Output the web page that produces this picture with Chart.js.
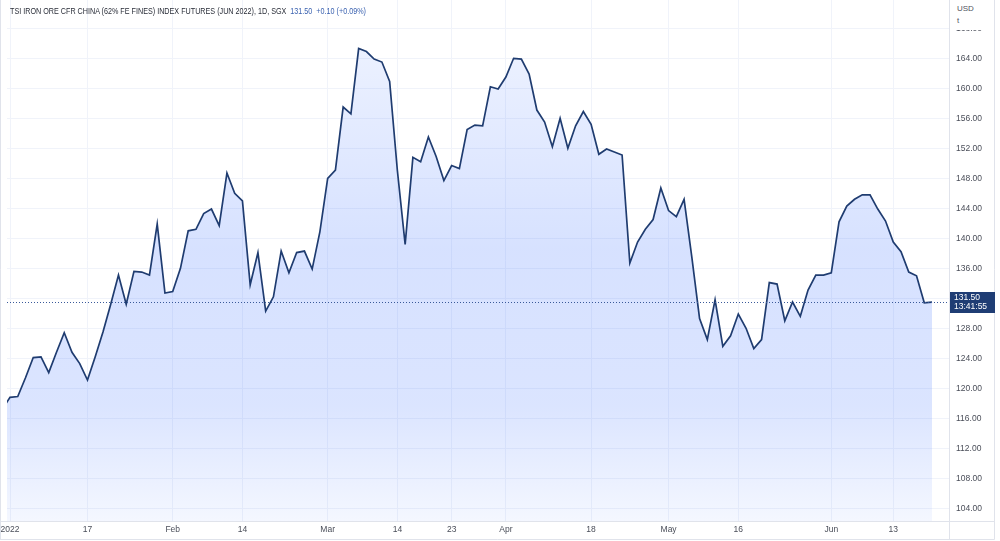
<!DOCTYPE html>
<html><head><meta charset="utf-8">
<script src="https://cdn.jsdelivr.net/npm/chart.js@4.4.0/dist/chart.umd.min.js"></script>
<style>
html,body{margin:0;padding:0;background:#fff;}
#wrap{position:relative;width:1000px;height:541px;overflow:hidden;background:#fff;}
#c{position:absolute;left:0;top:0;}
#title{position:absolute;left:10px;top:5px;font:9.5px "Liberation Sans",Arial,sans-serif;color:#2a2e39;white-space:nowrap;transform-origin:0 0;line-height:12px;}
#title .v{color:#3b62b0;}
#unit{position:absolute;left:951px;top:0;width:43px;height:30px;background:#fff;font:8px "Liberation Sans",Arial,sans-serif;color:#50535e;line-height:12px;padding:3px 0 0 6px;box-sizing:border-box;}
</style></head>
<body><div id="wrap"><canvas id="c" width="1000" height="541"></canvas>
<div id="title">TSI IRON ORE CFR CHINA (62% FE FINES) INDEX FUTURES (JUN 2022), 1D, SGX&nbsp;&nbsp;<span class="v">131.50&nbsp;&nbsp;+0.10 (+0.09%)</span></div>
<div id="unit">USD<br>t</div></div>
<script>
const dates = ['2021-12-31',
'2022-01-03','2022-01-04','2022-01-05','2022-01-06','2022-01-07','2022-01-10','2022-01-11','2022-01-12','2022-01-13','2022-01-14',
'2022-01-17','2022-01-18','2022-01-19','2022-01-20','2022-01-21','2022-01-24','2022-01-25','2022-01-26','2022-01-27','2022-01-28',
'2022-01-31','2022-02-01','2022-02-02','2022-02-03','2022-02-04','2022-02-07','2022-02-08','2022-02-09','2022-02-10','2022-02-11',
'2022-02-14','2022-02-15','2022-02-16','2022-02-17','2022-02-18','2022-02-21','2022-02-22','2022-02-23','2022-02-24','2022-02-25',
'2022-02-28','2022-03-01','2022-03-02','2022-03-03','2022-03-04','2022-03-07','2022-03-08','2022-03-09','2022-03-10','2022-03-11',
'2022-03-14','2022-03-15','2022-03-16','2022-03-17','2022-03-18','2022-03-21','2022-03-22','2022-03-23','2022-03-24','2022-03-25',
'2022-03-28','2022-03-29','2022-03-30','2022-03-31','2022-04-01','2022-04-04','2022-04-05','2022-04-06','2022-04-07','2022-04-08',
'2022-04-11','2022-04-12','2022-04-13','2022-04-14','2022-04-15','2022-04-18','2022-04-19','2022-04-20','2022-04-21','2022-04-22',
'2022-04-25','2022-04-26','2022-04-27','2022-04-28','2022-04-29','2022-05-02','2022-05-04','2022-05-05','2022-05-06','2022-05-09',
'2022-05-10','2022-05-11','2022-05-12','2022-05-13','2022-05-16','2022-05-17','2022-05-18','2022-05-19','2022-05-20','2022-05-23',
'2022-05-24','2022-05-25','2022-05-26','2022-05-27','2022-05-30','2022-05-31','2022-06-01','2022-06-02','2022-06-03','2022-06-06',
'2022-06-07','2022-06-08','2022-06-09','2022-06-10','2022-06-13','2022-06-14','2022-06-15','2022-06-16','2022-06-17','2022-06-20'];

const prices = [117.2,
118.8,118.9,121.4,124.1,124.2,122.1,124.8,127.4,124.8,123.3,
121.1,124.2,127.5,131.2,135.1,131.2,135.6,135.5,135.1,141.9,
132.7,132.9,136.0,141.0,141.2,143.3,143.9,141.7,148.7,146.0,
145.0,133.8,138.1,130.3,132.2,138.3,135.4,138.1,138.3,135.9,
140.9,148.0,149.1,157.5,156.6,165.3,164.9,163.9,163.5,160.9,
149.0,139.2,150.8,150.2,153.5,150.9,147.7,149.7,149.3,154.5,
155.1,155.0,160.2,159.9,161.5,164.0,163.9,161.9,157.1,155.5,
152.2,156.0,152.0,155.0,156.9,155.2,151.2,151.9,151.5,151.1,
136.7,139.5,141.2,142.5,146.7,143.7,142.9,145.2,137.5,129.3,
126.5,131.8,125.6,127.0,129.9,128.0,125.3,126.5,134.1,133.9,
129.0,131.5,129.6,133.1,135.1,135.1,135.4,142.2,144.3,145.2,
145.8,145.8,143.9,142.3,139.5,138.2,135.5,135.0,131.4,131.5];

const tickDates  = ['2022-01-03','2022-01-17','2022-02-01','2022-02-14','2022-03-01','2022-03-14','2022-03-23','2022-04-01','2022-04-18','2022-05-02','2022-05-16','2022-06-01','2022-06-13'];
const tickLabels = ['2022','17','Feb','14','Mar','14','23','Apr','18','May','16','Jun','13'];
const priceTicks = [104,108,112,116,120,124,128,132,136,140,144,148,152,156,160,164,168];
const lastPrice = 131.50;
const lastTime = '13:41:55';

const FONT = '"Liberation Sans", Arial, sans-serif';
const idx0 = dates.indexOf('2022-01-03');
const points = prices.map((p, i) => ({x: i - idx0, y: p}));
const tickPos = tickDates.map(d => dates.indexOf(d) - idx0);

const extras = {
  id: 'extras',
  beforeDraw(chart) {
    const c = chart.ctx;
    c.save(); c.fillStyle = '#fff'; c.fillRect(0, 0, chart.width, chart.height); c.restore();
  },
  afterDatasetsDraw(chart) {
    const c = chart.ctx, a = chart.chartArea, y = Math.round(chart.scales.y.getPixelForValue(lastPrice)) + 0.5;
    c.save();
    c.strokeStyle = '#3a5a9a';
    c.lineWidth = 1;
    c.setLineDash([1, 2]);
    c.beginPath(); c.moveTo(a.left, y); c.lineTo(a.right, y); c.stroke();
    c.restore();
  },
  afterDraw(chart) {
    const c = chart.ctx, a = chart.chartArea;
    c.save();
    c.strokeStyle = '#e0e3eb'; c.lineWidth = 1;
    c.beginPath();
    c.moveTo(0, a.bottom + 0.5); c.lineTo(994.5, a.bottom + 0.5);
    c.moveTo(994.5, 0); c.lineTo(994.5, 539.5);
    c.moveTo(0, 539.5); c.lineTo(994.5, 539.5);
    c.moveTo(a.right + 0.5, a.bottom); c.lineTo(a.right + 0.5, 539.5);
    c.moveTo(0.5, 0); c.lineTo(0.5, 539.5);
    c.stroke();
    const y = chart.scales.y.getPixelForValue(lastPrice);
    c.fillStyle = '#1f3d74';
    c.fillRect(a.right + 1, Math.round(y) - 10, 45, 21);
    c.fillStyle = '#ffffff';
    c.font = '8.5px ' + FONT;
    c.textBaseline = 'middle';
    c.textAlign = 'left';
    c.fillText(lastPrice.toFixed(2), a.right + 5, Math.round(y) - 4);
    c.fillText(lastTime, a.right + 5, Math.round(y) + 5);
    c.restore();
  }
};

new Chart(document.getElementById('c'), {
  type: 'line',
  data: {
    datasets: [{
      data: points,
      borderColor: '#1f3c70',
      borderWidth: 1.7,
      pointRadius: 0,
      tension: 0,
      fill: 'start',
      backgroundColor(ctx) {
        const chart = ctx.chart, a = chart.chartArea;
        if (!a) return 'rgba(41,98,255,0.15)';
        const g = chart.ctx.createLinearGradient(0, a.top, 0, a.bottom);
        g.addColorStop(0.0, 'rgba(41,98,255,0.06)');
        g.addColorStop(0.09, 'rgba(41,98,255,0.09)');
        g.addColorStop(0.48, 'rgba(41,98,255,0.19)');
        g.addColorStop(0.78, 'rgba(41,98,255,0.17)');
        g.addColorStop(1, 'rgba(41,98,255,0.05)');
        return g;
      }
    }]
  },
  options: {
    responsive: false,
    animation: false,
    events: [],
    layout: {padding: {left: 7, top: 0, right: 0, bottom: 0}},
    plugins: {legend: {display: false}, tooltip: {enabled: false}},
    scales: {
      x: {
        type: 'linear',
        position: 'bottom',
        min: -3 / 7.748,
        max: 939 / 7.748,
        afterBuildTicks(s) { s.ticks = tickPos.map(v => ({value: v})); },
        afterFit(s) { s.height = 20; s.paddingLeft = 0; s.paddingRight = 0; },
        ticks: {
          autoSkip: false, maxRotation: 0, minRotation: 0, padding: 4,
          color: '#4a4e59', font: {size: 8.5, family: FONT},
          callback(v) { const k = tickPos.indexOf(v); return k >= 0 ? tickLabels[k] : ''; }
        },
        grid: {color: '#f0f3fa', lineWidth: 1, drawTicks: false},
        border: {display: true, color: '#e0e3eb'}
      },
      y: {
        type: 'linear',
        position: 'right',
        min: 164 - (521 - 58.3) / 7.5,
        max: 164 + 58.3 / 7.5,
        afterBuildTicks(s) { s.ticks = priceTicks.map(v => ({value: v})); },
        afterFit(s) { s.width = 51; s.paddingTop = 0; s.paddingBottom = 0; },
        ticks: {
          padding: 7, crossAlign: 'near',
          color: '#4a4e59', font: {size: 8.5, family: FONT},
          callback(v) { return Number(v).toFixed(2); }
        },
        grid: {color: '#f0f3fa', lineWidth: 1, drawTicks: false},
        border: {display: true, color: '#e0e3eb'}
      }
    }
  },
  plugins: [extras]
});

const t = document.getElementById('title');
const w = t.getBoundingClientRect().width;
t.style.transform = 'scaleX(' + (356 / w).toFixed(4) + ')';
</script>
</body></html>
